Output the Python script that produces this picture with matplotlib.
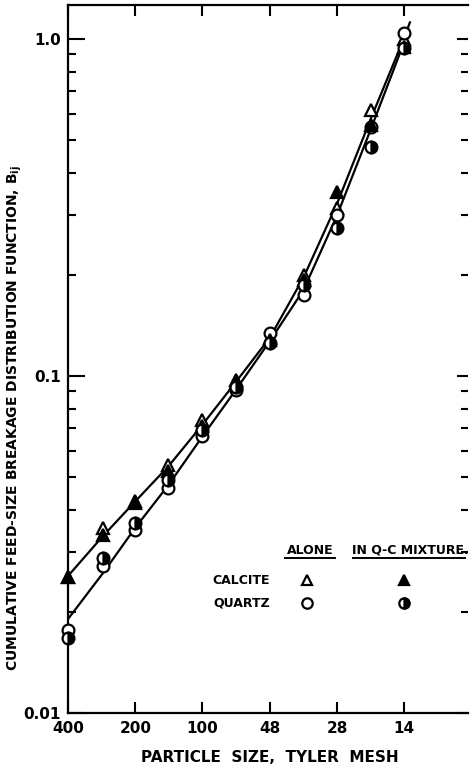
import matplotlib
matplotlib.use("Agg")
import matplotlib.pyplot as plt
import numpy as np

# Tyler mesh openings (micrometres) and their labels
mesh_sizes = [37, 53, 74, 104, 147, 208, 295, 417, 589, 833, 1168]
tick_sizes = [37, 74, 147, 295, 589, 1168]
tick_labels = ["400", "200", "100", "48", "28", "14"]

# measured points
calcite_alone = [0.0254, 0.0354, 0.0420, 0.0545, 0.0740, 0.0970, 0.130, 0.1995, 0.315, 0.615, 1.00]
calcite_mix = [0.0254, 0.0337, 0.0425, 0.0524, 0.0713, 0.0955, 0.128, 0.193, 0.352, 0.556, 0.95]
quartz_alone = [0.0176, 0.0273, 0.0349, 0.0465, 0.0664, 0.0908, 0.134, 0.174, 0.300, 0.548, 1.04]
quartz_mix = [0.0167, 0.0288, 0.0366, 0.0491, 0.0692, 0.0930, 0.125, 0.186, 0.275, 0.479, 0.94]

# drawn curves
calcite_curve_sizes = [37, 53, 74, 104, 147, 208, 295, 417, 589, 833, 1168, 1245]
calcite_curve = [0.0255, 0.0335, 0.0425, 0.054, 0.0715, 0.096, 0.13, 0.196, 0.325, 0.58, 1.0, 1.12]
quartz_curve_sizes = [37, 53, 74, 104, 147, 208, 295, 417, 589, 833, 1168]
quartz_curve = [0.019, 0.026, 0.0355, 0.0475, 0.066, 0.091, 0.127, 0.18, 0.30, 0.54, 0.97]

W, H = 470, 769
fig = plt.figure(figsize=(W / 100, H / 100), dpi=100)
ax = fig.add_axes([68 / W, 1 - 713 / H, (468 - 68) / W, (713 - 5) / H])
ax.set_xscale("log")
ax.set_yscale("log")
ax.set_xlim(37, 37 * 2 ** ((468 - 68) / 67.4))
ax.set_ylim(0.01, 10 ** ((713 - 5) / 337 - 2))

lw = 1.6
ax.plot(calcite_curve_sizes, calcite_curve, color="black", lw=lw, zorder=2)
ax.plot(quartz_curve_sizes, quartz_curve, color="black", lw=lw, zorder=2)

ms = 8.5
mk = dict(markeredgecolor="black", markeredgewidth=1.6, linestyle="none", zorder=3, clip_on=False)
ax.plot(mesh_sizes, calcite_alone, marker="^", markersize=ms, markerfacecolor="white", **mk)
ax.plot(mesh_sizes, quartz_alone, marker="o", markersize=ms, markerfacecolor="white", **mk)
ax.plot(mesh_sizes, calcite_mix, marker="^", markersize=ms, markerfacecolor="black", **mk)
ax.plot(mesh_sizes, quartz_mix, marker="o", markersize=ms, markerfacecolor="black",
        fillstyle="right", markerfacecoloralt="white", **mk)

# axes styling
for s in ["left", "bottom", "top"]:
    ax.spines[s].set_linewidth(1.6)
ax.spines["right"].set_visible(False)

ax.set_xticks(tick_sizes)
ax.set_xticklabels(tick_labels)
ax.xaxis.set_minor_locator(matplotlib.ticker.NullLocator())
ax.set_yticks([0.01, 0.1, 1.0])
ax.set_yticklabels(["0.01", "0.1", "1.0"])
ax.yaxis.set_minor_locator(matplotlib.ticker.LogLocator(base=10, subs=np.arange(2, 10)))
ax.yaxis.set_minor_formatter(matplotlib.ticker.NullFormatter())

font = dict(family="DejaVu Sans", weight="bold")
ax.tick_params(axis="x", which="major", direction="in", length=8, width=1.5, top=True,
               labelsize=11, pad=6)
ax.tick_params(axis="y", which="major", direction="in", length=12, width=1.5,
               labelsize=11, pad=5)
ax.tick_params(axis="y", which="minor", direction="in", length=6, width=1.5)
for lab in ax.get_xticklabels() + ax.get_yticklabels():
    lab.set_fontweight("bold")

ax2 = ax.twinx()
ax2.set_yscale("log")
ax2.set_ylim(ax.get_ylim())
for s in ax2.spines.values():
    s.set_visible(False)
ax2.set_yticks([0.01, 0.1, 1.0])
ax2.set_yticklabels([])
ax2.yaxis.set_minor_locator(matplotlib.ticker.LogLocator(base=10, subs=np.arange(2, 10)))
ax2.yaxis.set_minor_formatter(matplotlib.ticker.NullFormatter())
ax2.tick_params(axis="y", which="major", direction="in", length=8, width=1.5)
ax2.tick_params(axis="y", which="minor", direction="in", length=5, width=1.5)

fig.text(270 / W, 1 - 757 / H, "PARTICLE  SIZE,  TYLER  MESH", ha="center", va="center",
         fontsize=11, **font)
fig.text(15 / W, 1 - 418 / H,
         r"CUMULATIVE FEED-SIZE BREAKAGE DISTRIBUTION FUNCTION, B$_{\mathbf{ij}}$",
         ha="center", va="center", rotation=90, fontsize=10, **font)

def fx(px):
    return px / W

def fy(py):
    return 1 - py / H

fig.text(fx(310), fy(550), "ALONE", ha="center", va="center", fontsize=9, **font)
fig.add_artist(plt.Line2D([fx(285), fx(335)], [fy(558), fy(558)], color="black", lw=1.4))
fig.text(fx(410), fy(550), "IN Q-C MIXTURE.", ha="center", va="center", fontsize=9, **font)
fig.add_artist(plt.Line2D([fx(353), fx(465)], [fy(558), fy(558)], color="black", lw=1.4))
fig.text(fx(270), fy(580), "CALCITE", ha="right", va="center", fontsize=9, **font)
fig.text(fx(270), fy(603), "QUARTZ", ha="right", va="center", fontsize=9, **font)
lm = dict(markeredgecolor="black", markeredgewidth=1.6, markersize=7.5, transform=fig.transFigure)
fig.add_artist(plt.Line2D([fx(307)], [fy(580)], marker="^", markerfacecolor="white", **lm))
fig.add_artist(plt.Line2D([fx(307)], [fy(603)], marker="o", markerfacecolor="white", **lm))
fig.add_artist(plt.Line2D([fx(404)], [fy(580)], marker="^", markerfacecolor="black", **lm))
fig.add_artist(plt.Line2D([fx(404)], [fy(603)], marker="o", markerfacecolor="black",
                          fillstyle="right", markerfacecoloralt="white", **lm))

fig.savefig("out.png", dpi=100)
